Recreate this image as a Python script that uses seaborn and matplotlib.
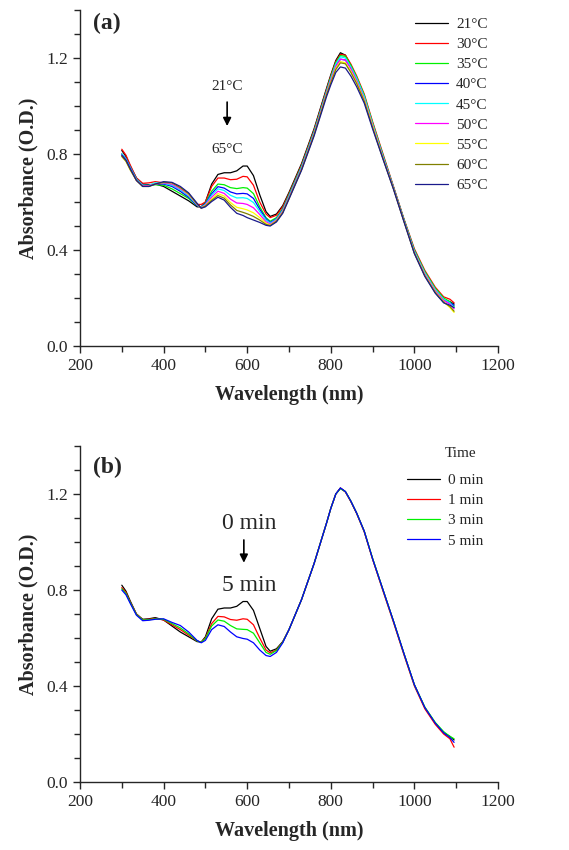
import pandas as pd
import seaborn as sns
import matplotlib.pyplot as plt
from matplotlib.ticker import MultipleLocator

# wavelength grid (nm) shared by every spectrum
wl = [300, 310, 320, 335, 350, 365, 380, 400, 420, 440, 460, 480, 490, 500, 515,
      530, 545, 560, 575, 590, 600, 615, 630, 645, 655, 670, 685, 700, 730, 760, 790,
      800, 812, 823, 835, 848, 862, 880, 900, 925, 950, 975, 1000, 1025, 1050, 1070, 1085, 1095]

# (a) temperature series
temp_labels = ["21°C", "30°C", "35°C", "40°C", "45°C", "50°C", "55°C", "60°C", "65°C"]
temp_colors = ["#000000", "#ff0000", "#00f000", "#0000ff", "#00ffff",
               "#ff00ff", "#ffff00", "#808000", "#1a1a8c"]
t21 = [0.815, 0.79, 0.75, 0.70, 0.675, 0.672, 0.675, 0.665, 0.645, 0.625, 0.605, 0.58, 0.58, 0.60, 0.675,
       0.715, 0.722, 0.722, 0.73, 0.75, 0.75, 0.71, 0.63, 0.56, 0.54, 0.55, 0.585, 0.64, 0.76, 0.905, 1.075,
       1.13, 1.19, 1.222, 1.212, 1.168, 1.11, 1.03, 0.915, 0.785, 0.66, 0.525, 0.39, 0.30, 0.225, 0.19, 0.185, 0.175]
t30 = [0.82, 0.795, 0.755, 0.70, 0.678, 0.68, 0.685, 0.68, 0.67, 0.645, 0.62, 0.59, 0.59, 0.60, 0.665,
       0.70, 0.70, 0.693, 0.695, 0.707, 0.705, 0.67, 0.60, 0.55, 0.535, 0.545, 0.58, 0.635, 0.755, 0.90, 1.07,
       1.125, 1.185, 1.215, 1.212, 1.175, 1.125, 1.05, 0.935, 0.80, 0.665, 0.53, 0.405, 0.315, 0.245, 0.205, 0.195, 0.18]
t35 = [0.80, 0.78, 0.745, 0.695, 0.67, 0.668, 0.672, 0.67, 0.655, 0.635, 0.615, 0.585, 0.578, 0.595, 0.645,
       0.675, 0.672, 0.66, 0.656, 0.66, 0.658, 0.635, 0.58, 0.535, 0.52, 0.535, 0.572, 0.63, 0.75, 0.895, 1.065,
       1.12, 1.18, 1.21, 1.207, 1.17, 1.12, 1.045, 0.93, 0.795, 0.662, 0.528, 0.40, 0.31, 0.24, 0.20, 0.185, 0.165]
t40 = [0.80, 0.78, 0.745, 0.695, 0.67, 0.668, 0.675, 0.675, 0.665, 0.645, 0.62, 0.585, 0.578, 0.593, 0.635,
       0.664, 0.658, 0.642, 0.634, 0.636, 0.634, 0.615, 0.57, 0.53, 0.515, 0.53, 0.568, 0.625, 0.745, 0.89, 1.06,
       1.11, 1.168, 1.195, 1.192, 1.158, 1.11, 1.035, 0.92, 0.79, 0.66, 0.525, 0.395, 0.30, 0.23, 0.19, 0.18, 0.17]
t45 = [0.80, 0.78, 0.745, 0.695, 0.67, 0.67, 0.68, 0.678, 0.67, 0.65, 0.625, 0.588, 0.578, 0.59, 0.628,
       0.655, 0.648, 0.628, 0.617, 0.618, 0.615, 0.598, 0.56, 0.525, 0.512, 0.528, 0.566, 0.625, 0.745, 0.89, 1.06,
       1.115, 1.175, 1.205, 1.20, 1.163, 1.115, 1.04, 0.925, 0.79, 0.66, 0.525, 0.395, 0.305, 0.235, 0.195, 0.18, 0.16]
t50 = [0.795, 0.775, 0.74, 0.69, 0.668, 0.668, 0.675, 0.68, 0.675, 0.655, 0.63, 0.59, 0.576, 0.588, 0.62,
       0.645, 0.636, 0.612, 0.596, 0.594, 0.59, 0.576, 0.548, 0.518, 0.508, 0.525, 0.562, 0.62, 0.74, 0.885, 1.055,
       1.108, 1.165, 1.195, 1.192, 1.155, 1.105, 1.03, 0.92, 0.785, 0.658, 0.522, 0.39, 0.30, 0.23, 0.19, 0.175, 0.155]
t55 = [0.79, 0.77, 0.735, 0.69, 0.665, 0.665, 0.675, 0.682, 0.68, 0.66, 0.632, 0.592, 0.575, 0.585, 0.612,
       0.635, 0.625, 0.598, 0.578, 0.572, 0.567, 0.555, 0.535, 0.512, 0.504, 0.522, 0.558, 0.615, 0.735, 0.88, 1.05,
       1.10, 1.157, 1.185, 1.18, 1.145, 1.098, 1.025, 0.915, 0.782, 0.656, 0.52, 0.388, 0.295, 0.225, 0.185, 0.16, 0.14]
t60 = [0.79, 0.77, 0.735, 0.69, 0.665, 0.665, 0.675, 0.682, 0.68, 0.66, 0.635, 0.592, 0.575, 0.583, 0.607,
       0.627, 0.616, 0.588, 0.565, 0.557, 0.551, 0.54, 0.525, 0.507, 0.502, 0.52, 0.556, 0.615, 0.735, 0.88, 1.048,
       1.097, 1.152, 1.18, 1.176, 1.14, 1.093, 1.02, 0.91, 0.78, 0.655, 0.52, 0.386, 0.292, 0.222, 0.182, 0.165, 0.145]
t65 = [0.795, 0.775, 0.74, 0.69, 0.665, 0.665, 0.675, 0.685, 0.682, 0.665, 0.638, 0.595, 0.574, 0.58, 0.602,
       0.62, 0.608, 0.578, 0.553, 0.544, 0.535, 0.525, 0.515, 0.503, 0.50, 0.517, 0.553, 0.612, 0.732, 0.875, 1.04,
       1.088, 1.14, 1.163, 1.158, 1.125, 1.08, 1.012, 0.905, 0.778, 0.653, 0.518, 0.385, 0.29, 0.22, 0.18, 0.17, 0.16]
temp_values = [t21, t30, t35, t40, t45, t50, t55, t60, t65]

# (b) time series
time_labels = ["0 min", "1 min", "3 min", "5 min"]
time_colors = ["#000000", "#ff0000", "#00f000", "#0000ff"]
m0 = [0.82, 0.795, 0.755, 0.70, 0.678, 0.68, 0.685, 0.675, 0.65, 0.625, 0.605, 0.585, 0.583, 0.605, 0.68,
      0.72, 0.725, 0.725, 0.732, 0.752, 0.752, 0.715, 0.64, 0.565, 0.545, 0.555, 0.585, 0.635, 0.76, 0.91, 1.08,
      1.14, 1.20, 1.225, 1.21, 1.17, 1.12, 1.045, 0.93, 0.80, 0.67, 0.535, 0.405, 0.31, 0.245, 0.205, 0.19, 0.175]
m1 = [0.81, 0.79, 0.75, 0.70, 0.676, 0.678, 0.682, 0.675, 0.655, 0.635, 0.612, 0.588, 0.583, 0.60, 0.66,
      0.69, 0.688, 0.677, 0.674, 0.68, 0.678, 0.655, 0.60, 0.55, 0.538, 0.55, 0.583, 0.635, 0.76, 0.91, 1.08,
      1.14, 1.20, 1.224, 1.208, 1.168, 1.118, 1.042, 0.928, 0.795, 0.665, 0.53, 0.40, 0.305, 0.24, 0.20, 0.18, 0.145]
m3 = [0.805, 0.785, 0.748, 0.698, 0.675, 0.676, 0.68, 0.678, 0.66, 0.642, 0.617, 0.588, 0.582, 0.597, 0.65,
      0.675, 0.67, 0.652, 0.638, 0.636, 0.635, 0.62, 0.58, 0.54, 0.532, 0.548, 0.582, 0.635, 0.76, 0.91, 1.08,
      1.14, 1.20, 1.222, 1.21, 1.17, 1.12, 1.045, 0.932, 0.80, 0.67, 0.535, 0.405, 0.312, 0.248, 0.21, 0.19, 0.18]
m5 = [0.80, 0.78, 0.745, 0.695, 0.672, 0.674, 0.678, 0.68, 0.665, 0.652, 0.625, 0.59, 0.58, 0.59, 0.635,
      0.655, 0.648, 0.625, 0.605, 0.598, 0.595, 0.58, 0.55, 0.527, 0.523, 0.54, 0.58, 0.635, 0.76, 0.91, 1.08,
      1.14, 1.20, 1.225, 1.21, 1.17, 1.12, 1.045, 0.93, 0.80, 0.67, 0.535, 0.405, 0.31, 0.245, 0.205, 0.185, 0.165]
time_values = [m0, m1, m3, m5]


def long_table(labels, values):
    rows = []
    for lab, vals in zip(labels, values):
        rows.append(pd.DataFrame({"wl": wl, "abs": vals, "series": lab}))
    return pd.concat(rows, ignore_index=True)


sns.set_style("ticks")
plt.rcParams["font.family"] = ["Liberation Serif", "DejaVu Serif"]

fig = plt.figure(figsize=(5.69, 8.5), dpi=100)
ax_a = fig.add_axes([0.1406, 0.5929, 0.7346, 0.3953])
ax_b = fig.add_axes([0.1406, 0.08, 0.7346, 0.3953])

sns.lineplot(data=long_table(temp_labels, temp_values), x="wl", y="abs", hue="series",
             palette=temp_colors, estimator=None, sort=False, linewidth=0.9, ax=ax_a)
sns.lineplot(data=long_table(time_labels, time_values), x="wl", y="abs", hue="series",
             palette=time_colors, estimator=None, sort=False, linewidth=0.9, ax=ax_b)

for ax in (ax_a, ax_b):
    ax.set_xlim(200, 1200)
    ax.set_ylim(0, 1.4)
    ax.xaxis.set_major_locator(MultipleLocator(200))
    ax.xaxis.set_minor_locator(MultipleLocator(100))
    ax.yaxis.set_major_locator(MultipleLocator(0.4))
    ax.yaxis.set_minor_locator(MultipleLocator(0.1))
    ax.yaxis.set_major_formatter(plt.FormatStrFormatter("%.1f"))
    ax.tick_params(which="major", direction="out", length=5, width=1, labelsize=12.5)
    ax.tick_params(which="minor", direction="out", length=4, width=1)
    ax.set_xlabel("Wavelength (nm)", fontsize=14.5, fontweight="bold", labelpad=8)
    ax.set_ylabel("Absorbance (O.D.)", fontsize=14.5, fontweight="bold", labelpad=6)
    sns.despine(ax=ax)
    for s in ("left", "bottom"):
        ax.spines[s].set_linewidth(1)

# panel (a) annotations and legend
ax_a.text(265, 1.342, "(a)", fontsize=17, fontweight="bold", ha="center", va="center")
ax_a.text(552, 1.083, "21°C", fontsize=11, ha="center", va="center")
ax_a.annotate("", xy=(552, 0.905), xytext=(552, 1.028),
              arrowprops=dict(arrowstyle="-|>", color="k", lw=1.2, mutation_scale=12))
ax_a.text(552, 0.817, "65°C", fontsize=11, ha="center", va="center")
h, l = ax_a.get_legend_handles_labels()
ax_a.legend(h, l, loc="upper left", bbox_to_anchor=(0.801, 0.978), frameon=False,
            fontsize=11, borderpad=0, borderaxespad=0, labelspacing=0.42,
            handlelength=2.2, handletextpad=0.5)

# panel (b) annotations and legend
ax_b.text(265, 1.31, "(b)", fontsize=17, fontweight="bold", ha="center", va="center")
ax_b.text(605, 1.079, "0 min", fontsize=17, ha="center", va="center")
ax_b.annotate("", xy=(592, 0.902), xytext=(592, 1.02),
              arrowprops=dict(arrowstyle="-|>", color="k", lw=1.2, mutation_scale=12))
ax_b.text(605, 0.817, "5 min", fontsize=17, ha="center", va="center")
ax_b.text(0.873, 0.979, "Time", transform=ax_b.transAxes, fontsize=11, ha="left", va="center")
h, l = ax_b.get_legend_handles_labels()
ax_b.legend(h, l, loc="upper left", bbox_to_anchor=(0.782, 0.918), frameon=False,
            fontsize=11, borderpad=0, borderaxespad=0, labelspacing=0.42,
            handlelength=2.2, handletextpad=0.5)

fig.savefig("out.png", dpi=100)
